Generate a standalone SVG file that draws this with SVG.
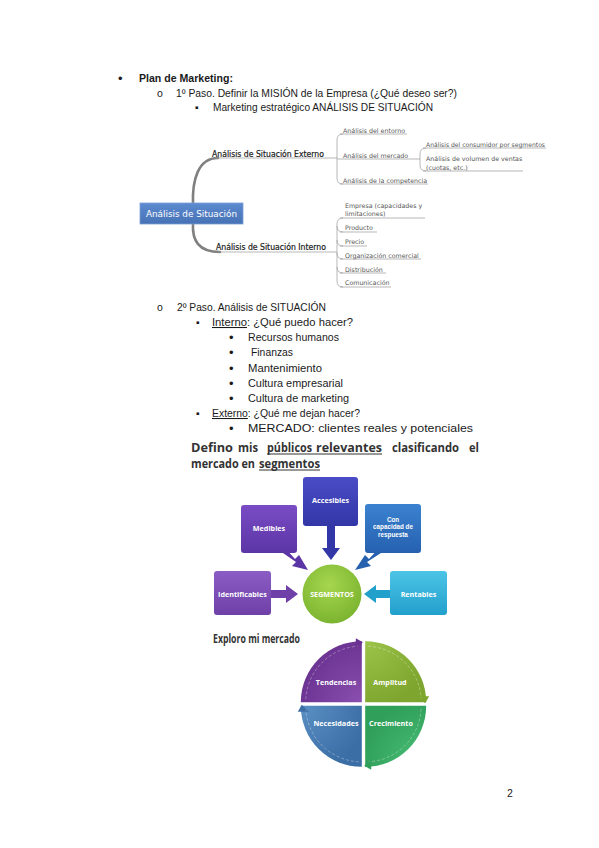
<svg xmlns="http://www.w3.org/2000/svg" width="599" height="848" viewBox="0 0 599 848">
<defs>
<style>
.body{font-family:"Liberation Sans",Arial,sans-serif;font-size:10.5px;fill:#1a1a1a}
.bul{font-family:"Liberation Sans",Arial,sans-serif;font-size:13px;fill:#1a1a1a}
.mm{font-family:"DejaVu Sans",Verdana,sans-serif;font-size:6.3px;fill:#555}
.mmb{font-family:"DejaVu Sans",Verdana,sans-serif;font-size:8px;fill:#1a1a1a;stroke:#1a1a1a;stroke-width:0.2}
.ul{stroke:#9a9a9a;stroke-width:0.7;fill:none}
.br{stroke:#808080;stroke-width:2.6;fill:none;stroke-linecap:round}
.hd{font-family:"Open Sans","DejaVu Sans",sans-serif;font-size:12.5px;font-weight:bold;fill:#333}
.lbl{font-family:"Open Sans","DejaVu Sans",sans-serif;font-size:7.2px;font-weight:bold;fill:#fff;text-anchor:middle}
.lbl2{font-family:"Liberation Sans",Arial,sans-serif;font-size:6.3px;font-weight:bold;fill:#fff;text-anchor:middle}
</style>
<linearGradient id="gBox" x1="0" y1="0" x2="0" y2="1"><stop offset="0" stop-color="#5d8ad0"/><stop offset="1" stop-color="#4672b5"/></linearGradient>
<linearGradient id="gMed" x1="0" y1="0" x2="0" y2="1"><stop offset="0" stop-color="#7a4cc4"/><stop offset="1" stop-color="#5b35a6"/></linearGradient>
<linearGradient id="gAcc" x1="0" y1="0" x2="0" y2="1"><stop offset="0" stop-color="#4a4cc6"/><stop offset="1" stop-color="#3236a6"/></linearGradient>
<linearGradient id="gCon" x1="0" y1="0" x2="0" y2="1"><stop offset="0" stop-color="#3a82d0"/><stop offset="1" stop-color="#2661b0"/></linearGradient>
<linearGradient id="gIde" x1="0" y1="0" x2="0" y2="1"><stop offset="0" stop-color="#8b5cc4"/><stop offset="1" stop-color="#6e40a8"/></linearGradient>
<linearGradient id="gRen" x1="0" y1="0" x2="0" y2="1"><stop offset="0" stop-color="#4cc4e6"/><stop offset="1" stop-color="#22a0cc"/></linearGradient>
<radialGradient id="gSeg" cx="0.45" cy="0.35" r="0.7"><stop offset="0" stop-color="#a6d64e"/><stop offset="1" stop-color="#78b22e"/></radialGradient>
<radialGradient id="gTen" cx="1" cy="1" r="1.1"><stop offset="0" stop-color="#8a4fb0"/><stop offset="1" stop-color="#6a3290"/></radialGradient>
<radialGradient id="gAmp" cx="0" cy="1" r="1.1"><stop offset="0" stop-color="#9cc44a"/><stop offset="1" stop-color="#7ea62e"/></radialGradient>
<radialGradient id="gCre" cx="0" cy="0" r="1.1"><stop offset="0" stop-color="#4cc078"/><stop offset="1" stop-color="#2f9f5a"/></radialGradient>
<radialGradient id="gNec" cx="1" cy="0" r="1.1"><stop offset="0" stop-color="#5a90c4"/><stop offset="1" stop-color="#3c6ea6"/></radialGradient>
</defs>
<rect width="599" height="848" fill="#fff"/>

<!-- Top text -->
<g id="text-top">
<text class="bul" x="118" y="83">•</text>
<text class="body" x="139" y="82" font-weight="bold" textLength="94" lengthAdjust="spacingAndGlyphs">Plan de Marketing:</text>
<text class="body" x="157" y="97">o</text>
<text class="body" x="176" y="97" textLength="281" lengthAdjust="spacingAndGlyphs">1º Paso. Definir la MISIÓN de la Empresa (¿Qué deseo ser?)</text>
<text class="body" x="195" y="111" font-size="8">▪</text>
<text class="body" x="213" y="111" textLength="220" lengthAdjust="spacingAndGlyphs">Marketing estratégico ANÁLISIS DE SITUACIÓN</text>
</g>

<!-- Mind map connectors -->
<g id="mm-connectors">
<path class="br" d="M193,205 C192,180 198,158 218,158"/>
<path class="br" d="M193,223 C192,240 198,252 220,252"/>
<path class="ul" d="M215,158 L337,158"/>
<path class="ul" d="M218,252 L337,252"/>
<path class="ul" d="M343,134 Q337,134 337,140 L337,178 Q337,184 343,184"/>
<path class="ul" d="M340,134 L407,134"/>
<path class="ul" d="M337,159 L420,159"/>
<path class="ul" d="M340,184 L428,184"/>
<path class="ul" d="M426,148 Q420,148 420,154 L420,165 Q420,171 426,171"/>
<path class="ul" d="M423,148 L546,148"/>
<path class="ul" d="M423,171 L523,171"/>
<path class="ul" d="M343,218 Q337,218 337,224 L337,281 Q337,287 343,287"/>
<path class="ul" d="M337,226 Q337,232 343,232 M337,240 Q337,246 343,246 M337,253 Q337,259 343,259 M337,267 Q337,273 343,273"/>
<path class="ul" d="M340,218 L425,218"/>
<path class="ul" d="M340,232 L377,232"/>
<path class="ul" d="M340,246 L367,246"/>
<path class="ul" d="M340,259 L421,259"/>
<path class="ul" d="M340,273 L386,273"/>
<path class="ul" d="M340,287 L391,287"/>
</g>

<g id="mm-root">
<rect x="140" y="203" width="103" height="21" fill="url(#gBox)" stroke="#7c9ed4" stroke-width="0.8"/>
<text x="146" y="216.8" font-family="DejaVu Sans,Verdana,sans-serif" font-size="8.8" fill="#fff" textLength="91" lengthAdjust="spacingAndGlyphs">Análisis de Situación</text>
</g>
<g id="mm-externo">
<text class="mmb" x="212" y="156.5" textLength="112" lengthAdjust="spacingAndGlyphs">Análisis de Situación Externo</text>
</g>
<g id="mm-interno">
<text class="mmb" x="216" y="249.8" textLength="110" lengthAdjust="spacingAndGlyphs">Análisis de Situación Interno</text>
</g>
<g id="mm-ext-items">
<text class="mm" x="343" y="133">Análisis del entorno</text>
<text class="mm" x="343" y="158">Análisis del mercado</text>
<text class="mm" x="343" y="182.5">Análisis de la competencia</text>
<text class="mm" x="426" y="146.5" textLength="119" lengthAdjust="spacingAndGlyphs">Análisis del consumidor por segmentos</text>
<text class="mm" x="426" y="160.5">Análisis de volumen de ventas</text>
<text class="mm" x="426" y="169.5">(cuotas, etc.)</text>
</g>
<g id="mm-int-items">
<text class="mm" x="345" y="207.5">Empresa (capacidades y</text>
<text class="mm" x="345" y="216">limitaciones)</text>
<text class="mm" x="345" y="230">Producto</text>
<text class="mm" x="345" y="243.5">Precio</text>
<text class="mm" x="345" y="257.5">Organización comercial</text>
<text class="mm" x="345" y="271.5">Distribución</text>
<text class="mm" x="345" y="285">Comunicación</text>
</g>

<!-- Paso 2 text -->
<g id="text-paso2">
<text class="body" x="157" y="311">o</text>
<text class="body" x="177" y="311" textLength="149" lengthAdjust="spacingAndGlyphs">2º Paso. Análisis de SITUACIÓN</text>
<text class="body" x="196" y="326" font-size="8">▪</text>
<text class="body" x="212" y="326" textLength="141" lengthAdjust="spacingAndGlyphs"><tspan text-decoration="underline">Interno</tspan>: ¿Qué puedo hacer?</text>
<text class="bul" x="229" y="342">•</text>
<text class="body" x="248" y="341" textLength="91" lengthAdjust="spacingAndGlyphs">Recursos humanos</text>
<text class="bul" x="229" y="357">•</text>
<text class="body" x="251" y="356" textLength="42" lengthAdjust="spacingAndGlyphs">Finanzas</text>
<text class="bul" x="229" y="373">•</text>
<text class="body" x="248" y="372" textLength="74" lengthAdjust="spacingAndGlyphs">Mantenimiento</text>
<text class="bul" x="229" y="388">•</text>
<text class="body" x="248" y="387" textLength="95" lengthAdjust="spacingAndGlyphs">Cultura empresarial</text>
<text class="bul" x="229" y="403">•</text>
<text class="body" x="248" y="402" textLength="101" lengthAdjust="spacingAndGlyphs">Cultura de marketing</text>
<text class="body" x="196" y="417" font-size="8">▪</text>
<text class="body" x="212" y="417" textLength="148" lengthAdjust="spacingAndGlyphs"><tspan text-decoration="underline">Externo</tspan>: ¿Qué me dejan hacer?</text>
<text class="bul" x="229" y="433">•</text>
<text class="body" x="248" y="432" textLength="225" lengthAdjust="spacingAndGlyphs">MERCADO: clientes reales y potenciales</text>
</g>

<!-- Heading -->
<g id="heading">
<text class="hd" x="191" y="451.5" textLength="42" lengthAdjust="spacingAndGlyphs">Defino</text>
<text class="hd" x="238" y="451.5" textLength="20" lengthAdjust="spacingAndGlyphs">mis</text>
<text class="hd" x="267" y="451.5" textLength="45" lengthAdjust="spacingAndGlyphs">públicos</text>
<text class="hd" x="316" y="451.5" textLength="66" lengthAdjust="spacingAndGlyphs">relevantes</text>
<text class="hd" x="392" y="451.5" textLength="67" lengthAdjust="spacingAndGlyphs">clasificando</text>
<text class="hd" x="469" y="451.5" textLength="10" lengthAdjust="spacingAndGlyphs">el</text>
<line x1="267" y1="454" x2="382" y2="454" stroke="#333" stroke-width="1"/>
<text class="hd" x="191" y="467.5" textLength="64" lengthAdjust="spacingAndGlyphs">mercado en</text>
<text class="hd" x="259" y="467.5" textLength="61" lengthAdjust="spacingAndGlyphs">segmentos</text>
<line x1="259" y1="470" x2="320" y2="470" stroke="#333" stroke-width="1"/>
</g>

<!-- Segment arrows -->
<g id="seg-connectors">
<path d="M286,549 L295,559 L299,555 L308,570 L292,566 L296,562 L283,553 Z" fill="#5b35a6"/>
<path d="M327,525 L335,525 L335,548 L340,548 L331,560 L322,548 L327,548 Z" fill="#3236a6"/>
<path d="M378,549 L369,559 L365,555 L355,570 L371,566 L367,562 L381,553 Z" fill="#2661b0"/>
<path d="M271,590 L286,590 L286,585 L298,594 L286,603 L286,598 L271,598 Z" fill="#6e40a8"/>
<path d="M390,590 L376,590 L376,585 L364,594 L376,603 L376,598 L390,598 Z" fill="#22a0cc"/>
</g>
<g id="seg-medibles">
<rect x="241" y="505" width="56" height="48" rx="3" fill="url(#gMed)"/>
<text class="lbl" x="269" y="531">Medibles</text>
</g>
<g id="seg-accesibles">
<rect x="303" y="477" width="55" height="49" rx="3" fill="url(#gAcc)"/>
<text class="lbl" x="330.5" y="503">Accesibles</text>
</g>
<g id="seg-con">
<rect x="365" y="504" width="56" height="49" rx="3" fill="url(#gCon)"/>
<text class="lbl2" x="393" y="521.5">Con</text>
<text class="lbl2" x="393" y="529">capacidad de</text>
<text class="lbl2" x="393" y="536.5">respuesta</text>
</g>
<g id="seg-identificables">
<rect x="214" y="571" width="57" height="44" rx="3" fill="url(#gIde)"/>
<text class="lbl" x="242.5" y="596.5">Identificables</text>
</g>
<g id="seg-rentables">
<rect x="390" y="571" width="57" height="44" rx="3" fill="url(#gRen)"/>
<text class="lbl" x="418.5" y="596.5">Rentables</text>
</g>
<g id="seg-segmentos">
<circle cx="332" cy="594" r="29.5" fill="url(#gSeg)"/>
<text class="lbl" x="332" y="596.5" font-size="6">SEGMENTOS</text>
</g>

<!-- Exploro -->
<g id="exploro-title">
<text class="hd" x="213" y="643" font-size="10.5" textLength="87" lengthAdjust="spacingAndGlyphs">Exploro mi mercado</text>
</g>
<g id="q-tendencias" transform="translate(361.8,702.2)">
<path d="M0,0 L-61,0 A61,61 0 0 1 0,-61 Z" fill="url(#gTen)"/>
<path d="M-6,-64 L1,-60 L-6,-53 Z" fill="#6a3290"/>
<path d="M-56,-3 A56,56 0 0 1 -4,-56" fill="none" stroke="#fff" stroke-opacity="0.45" stroke-width="0.7" stroke-dasharray="3,2"/>
</g>
<g id="q-amplitud" transform="translate(365.2,702.2) rotate(90)">
<path d="M0,0 L-61,0 A61,61 0 0 1 0,-61 Z" fill="url(#gAmp)"/>
<path d="M-6,-64 L1,-60 L-6,-53 Z" fill="#7ea62e"/>
<path d="M-56,-3 A56,56 0 0 1 -4,-56" fill="none" stroke="#fff" stroke-opacity="0.45" stroke-width="0.7" stroke-dasharray="3,2"/>
</g>
<g id="q-crecimiento" transform="translate(365.2,705.8) rotate(180)">
<path d="M0,0 L-61,0 A61,61 0 0 1 0,-61 Z" fill="url(#gCre)"/>
<path d="M-6,-64 L1,-60 L-6,-53 Z" fill="#2f9f5a"/>
<path d="M-56,-3 A56,56 0 0 1 -4,-56" fill="none" stroke="#fff" stroke-opacity="0.45" stroke-width="0.7" stroke-dasharray="3,2"/>
</g>
<g id="q-necesidades" transform="translate(361.8,705.8) rotate(270)">
<path d="M0,0 L-61,0 A61,61 0 0 1 0,-61 Z" fill="url(#gNec)"/>
<path d="M-6,-64 L1,-60 L-6,-53 Z" fill="#3c6ea6"/>
<path d="M-56,-3 A56,56 0 0 1 -4,-56" fill="none" stroke="#fff" stroke-opacity="0.45" stroke-width="0.7" stroke-dasharray="3,2"/>
</g>
<g id="q-labels">
<text class="lbl" x="336" y="685">Tendencias</text>
<text class="lbl" x="390" y="685">Amplitud</text>
<text class="lbl" x="336" y="726">Necesidades</text>
<text class="lbl" x="391" y="726">Crecimiento</text>
</g>

<g id="page-num">
<text class="body" x="507" y="797">2</text>
</g>
</svg>
